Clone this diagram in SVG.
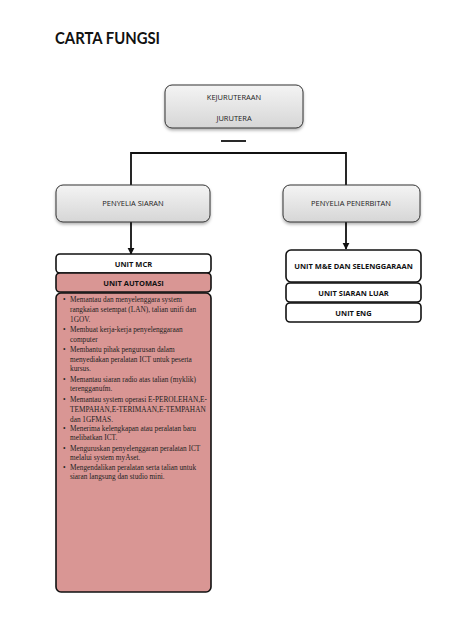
<svg xmlns="http://www.w3.org/2000/svg" width="474" height="632" viewBox="0 0 474 632">
<style>
.t{font-family:"Open Sans","Liberation Sans",sans-serif;font-size:7.5px;fill:#222;text-anchor:middle}
.b{font-family:"Open Sans","Liberation Sans",sans-serif;font-size:7.5px;font-weight:bold;fill:#111;text-anchor:middle}
.g{fill:url(#gr);stroke:#333;stroke-width:1}
.u{stroke:#111;stroke-width:1.6}
.w{fill:#fff}
.p{fill:#d99694}
.s{font-family:"Liberation Serif",serif;font-size:7.3px;fill:#222}
.ln{stroke:#111;stroke-width:1.8;fill:none}
</style>
<defs>
<linearGradient id="gr" x1="0" y1="0" x2="0" y2="1">
<stop offset="0" stop-color="#f4f4f4"/>
<stop offset="1" stop-color="#d6d6d6"/>
</linearGradient>
<filter id="sh" x="-10%" y="-20%" width="120%" height="150%">
<feDropShadow dx="0" dy="2" stdDeviation="1.5" flood-color="#000" flood-opacity="0.3"/>
</filter>
<marker id="ar" viewBox="0 0 10 10" refX="9" refY="5" markerWidth="4" markerHeight="4" orient="auto">
<path d="M0,0 L10,5 L0,10 z" fill="#111"/>
</marker>
</defs>
<rect width="474" height="632" fill="#fff"/>
<text x="55" y="44" font-family="Lato,Liberation Sans,sans-serif" font-size="17" font-weight="bold" fill="#111" textLength="105" lengthAdjust="spacingAndGlyphs">CARTA FUNGSI</text>
<g id="connectors">
<line x1="221" y1="141" x2="246" y2="141" class="ln"/>
<polyline points="131,185 131,153 346,153 346,185" class="ln"/>
<line x1="131" y1="222" x2="131" y2="254" class="ln" marker-end="url(#ar)"/>
<line x1="346" y1="222" x2="346" y2="249" class="ln" marker-end="url(#ar)"/>
</g>
<g id="kejuruteraan">
<rect x="165" y="85" width="138" height="43" rx="7" class="g" filter="url(#sh)"/>
<text x="234" y="100" class="t">KEJURUTERAAN</text>
<text x="234" y="121" class="t">JURUTERA</text>
</g>
<g id="penyelia-siaran">
<rect x="56" y="185" width="154" height="37" rx="7" class="g" filter="url(#sh)"/>
<text x="133" y="206" class="t">PENYELIA SIARAN</text>
</g>
<g id="penyelia-penerbitan">
<rect x="283" y="185" width="137" height="37" rx="7" class="g" filter="url(#sh)"/>
<text x="351" y="206" class="t">PENYELIA PENERBITAN</text>
</g>
<g id="unit-mcr">
<rect x="56" y="254" width="155" height="19" rx="4" class="w u"/>
<text x="133.5" y="266.5" class="b">UNIT MCR</text>
</g>
<g id="unit-automasi">
<rect x="56" y="273" width="155" height="19" rx="4" class="p u"/>
<text x="133.5" y="285.5" class="b">UNIT AUTOMASI</text>
</g>
<g id="automasi-tugas">
<rect x="56" y="293" width="155" height="299" rx="5" class="p u"/>
<g class="s">
<text x="63" y="302">•</text><text x="70" y="302">Memantau dan menyelenggara system</text>
<text x="70" y="312">rangkaian setempat (LAN), talian unifi dan</text>
<text x="70" y="322">1GOV.</text>
<text x="63" y="332">•</text><text x="70" y="332">Membuat kerja-kerja penyelenggaraan</text>
<text x="70" y="342">computer</text>
<text x="63" y="352">•</text><text x="70" y="352">Membantu pihak pengurusan dalam</text>
<text x="70" y="362">menyediakan peralatan ICT untuk peserta</text>
<text x="70" y="371">kursus.</text>
<text x="63" y="382">•</text><text x="70" y="382">Memantau siaran radio atas talian (myklik)</text>
<text x="70" y="391">terengganufm.</text>
<text x="63" y="402">•</text><text x="70" y="402">Memantau system operasi E-PEROLEHAN,E-</text>
<text x="70" y="412">TEMPAHAN,E-TERIMAAN,E-TEMPAHAN</text>
<text x="70" y="422">dan 1GFMAS.</text>
<text x="63" y="431">•</text><text x="70" y="431">Menerima kelengkapan atau peralatan baru</text>
<text x="70" y="440">melibatkan ICT.</text>
<text x="63" y="451">•</text><text x="70" y="451">Menguruskan penyelenggaran peralatan ICT</text>
<text x="70" y="460">melalui system myAset.</text>
<text x="63" y="470">•</text><text x="70" y="470">Mengendalikan peralatan serta talian untuk</text>
<text x="70" y="479">siaran langsung dan studio mini.</text>
</g>
</g>
<g id="unit-me">
<rect x="286" y="250" width="135" height="32" rx="5" class="w u"/>
<text x="353.5" y="269" class="b">UNIT M&amp;E DAN SELENGGARAAN</text>
</g>
<g id="unit-siaran-luar">
<rect x="286" y="283" width="135" height="19" rx="4" class="w u"/>
<text x="353.5" y="295.5" class="b">UNIT SIARAN LUAR</text>
</g>
<g id="unit-eng">
<rect x="286" y="303" width="135" height="19" rx="4" class="w u"/>
<text x="353.5" y="315.5" class="b">UNIT ENG</text>
</g>
</svg>
